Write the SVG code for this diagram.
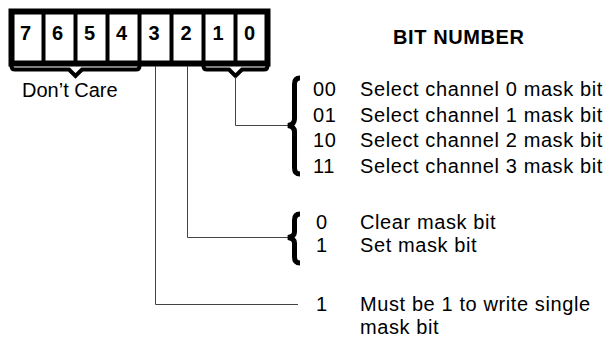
<svg xmlns="http://www.w3.org/2000/svg" width="609" height="337" viewBox="0 0 609 337">
<style>
.frame{fill:#fff;stroke:#000;stroke-width:6}
.div{stroke:#000;stroke-width:4}
.brk{fill:none;stroke:#000;stroke-width:4;stroke-linejoin:miter}
.brace{fill:none;stroke:#000;stroke-width:5;stroke-linecap:butt}
.bit{font-family:"Liberation Sans",Arial,sans-serif;font-weight:bold;font-size:20px;text-anchor:middle;fill:#000}
.t{font-family:"Liberation Sans",Arial,sans-serif;font-size:20px;letter-spacing:0.6px;fill:#000}
.h{font-family:"Liberation Sans",Arial,sans-serif;font-size:20px;font-weight:bold;letter-spacing:0.6px;fill:#000}
.ln{fill:none;stroke:#444;stroke-width:1}
</style>
<rect width="609" height="337" fill="#fff"/>
<g id="register">
  <rect class="frame" x="11.5" y="11.5" width="256" height="52"/>
  <line class="div" x1="43.5" y1="12" x2="43.5" y2="63"/>
  <line class="div" x1="75.5" y1="12" x2="75.5" y2="63"/>
  <line class="div" x1="107.5" y1="12" x2="107.5" y2="63"/>
  <line class="div" x1="139.5" y1="12" x2="139.5" y2="63"/>
  <line class="div" x1="171.5" y1="12" x2="171.5" y2="63"/>
  <line class="div" x1="203.5" y1="12" x2="203.5" y2="63"/>
  <line class="div" x1="235.5" y1="12" x2="235.5" y2="63"/>
  <text class="bit" x="25.5" y="39.5">7</text>
  <text class="bit" x="57.5" y="39.5">6</text>
  <text class="bit" x="89.5" y="39.5">5</text>
  <text class="bit" x="121.5" y="39.5">4</text>
  <text class="bit" x="154" y="39.5">3</text>
  <text class="bit" x="186" y="39.5">2</text>
  <text class="bit" x="218" y="39.5">1</text>
  <text class="bit" x="249.5" y="39.5">0</text>
</g>
<g id="dont-care">
  <path class="brk" d="M11.5,63 V66 Q11.5,69.5 15,69.5 H69 L75.5,76 L82,69.5 H136 Q139.5,69.5 139.5,66 V63"/>
  <text class="t" x="22" y="97" style="letter-spacing:0">Don’t Care</text>
</g>
<g id="sel-bracket">
  <path class="brk" d="M203.5,63 V66 Q203.5,69.5 207,69.5 H229 L235.5,76 L242,69.5 H264 Q267.5,69.5 267.5,66 V63"/>
</g>
<text class="h" x="393" y="44">BIT NUMBER</text>
<g id="connectors">
  <polyline class="ln" points="235.5,77 235.5,125.5 288,125.5"/>
  <polyline class="ln" points="187.5,66 187.5,237.5 288,237.5"/>
  <polyline class="ln" points="155.5,66 155.5,304.5 298,304.5"/>
</g>
<g id="channel-select">
  <path class="brace" d="M300,78 Q294.5,78 294.5,84 V119 Q294.5,124.5 288,125.5 Q294.5,126.5 294.5,132 V168 Q294.5,174 300,174"/>
  <text class="t" x="313" y="96">00</text>
  <text class="t" x="360" y="96">Select channel 0 mask bit</text>
  <text class="t" x="313" y="122">01</text>
  <text class="t" x="360" y="122">Select channel 1 mask bit</text>
  <text class="t" x="313" y="147">10</text>
  <text class="t" x="360" y="147">Select channel 2 mask bit</text>
  <text class="t" x="313" y="173">11</text>
  <text class="t" x="360" y="173">Select channel 3 mask bit</text>
</g>
<g id="mask-bit">
  <path class="brace" d="M300,214 Q294.5,214 294.5,220 V232 Q294.5,236.5 288,237.5 Q294.5,238.5 294.5,243 V257 Q294.5,263 300,263"/>
  <text class="t" x="316" y="229">0</text>
  <text class="t" x="360" y="229">Clear mask bit</text>
  <text class="t" x="316" y="252">1</text>
  <text class="t" x="360" y="252">Set mask bit</text>
</g>
<g id="single-bit">
  <text class="t" x="316" y="311">1</text>
  <text class="t" x="360" y="311">Must be 1 to write single</text>
  <text class="t" x="360" y="334">mask bit</text>
</g>
</svg>
